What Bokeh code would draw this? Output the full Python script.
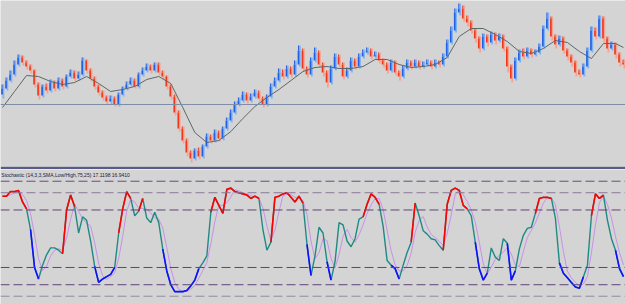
import numpy as np
import pandas as pd
from bokeh.plotting import figure
from bokeh.layouts import column
from bokeh.models import Range1d, Span, Label
from bokeh.embed import file_html
from bokeh.resources import INLINE

# ---------------- data ----------------
first_open = 72
close = [78, 86, 92, 102, 109, 104, 100, 96, 82, 71,
         80, 76, 84, 78, 86, 80, 90, 94, 88, 92,
         106, 96, 88, 80, 74, 69, 65, 68, 62, 72,
         78, 82, 86, 80, 92, 96, 100, 96, 102, 94,
         90, 80, 70, 54, 38, 26, 14, 8, 16, 10,
         20, 30, 26, 34, 28, 38, 46, 54, 62, 66,
         72, 66, 70, 74, 68, 62, 70, 80, 86, 94,
         90, 98, 92, 102, 116, 98, 92, 106, 114, 102,
         94, 84, 98, 110, 102, 90, 96, 106, 100, 110,
         114, 116, 110, 112, 106, 102, 96, 104, 94, 90,
         98, 104, 100, 104, 100, 102, 104, 100, 104, 102,
         110, 124, 136, 154, 158, 148, 144, 136, 128, 118,
         130, 124, 132, 126, 130, 118, 100, 88, 106, 114,
         110, 116, 112, 114, 120, 138, 148, 130, 122, 128,
         116, 110, 104, 94, 92, 100, 116, 136, 130, 148,
         128, 118, 122, 112, 104, 102]
high = [82, 89, 96, 106, 112, 111, 106, 102, 97, 84,
        82, 83, 87, 86, 89, 88, 92, 97, 96, 95,
        109, 107, 98, 90, 82, 76, 71, 71, 70, 74,
        80, 85, 89, 88, 94, 99, 103, 102, 104, 104,
        96, 91, 82, 72, 56, 40, 28, 16, 18, 19,
        22, 33, 32, 37, 36, 40, 49, 57, 65, 69,
        75, 74, 73, 77, 76, 70, 72, 83, 89, 98,
        97, 101, 100, 106, 121, 118, 100, 109, 119, 116,
        104, 96, 101, 113, 112, 104, 99, 109, 108, 113,
        117, 119, 118, 115, 114, 108, 104, 107, 106, 96,
        101, 107, 106, 107, 106, 105, 107, 106, 107, 106,
        113, 127, 140, 158, 163, 161, 151, 146, 138, 130,
        133, 132, 135, 134, 133, 132, 120, 102, 109, 117,
        118, 119, 118, 117, 123, 141, 154, 150, 132, 131,
        130, 118, 112, 106, 97, 103, 119, 140, 139, 151,
        150, 130, 125, 124, 114, 107]
low = [68, 76, 84, 90, 100, 101, 97, 93, 79, 67,
       69, 73, 74, 75, 76, 77, 78, 88, 85, 86,
       90, 93, 85, 77, 71, 66, 62, 62, 60, 60,
       70, 76, 80, 78, 78, 90, 94, 93, 94, 91,
       87, 77, 67, 51, 35, 23, 10, 4, 6, 7,
       8, 18, 23, 24, 25, 26, 36, 44, 52, 60,
       64, 63, 64, 68, 65, 59, 60, 68, 78, 84,
       87, 88, 89, 90, 100, 95, 89, 90, 104, 99,
       90, 79, 82, 96, 99, 87, 88, 94, 97, 98,
       108, 112, 107, 108, 103, 99, 93, 94, 91, 86,
       88, 96, 97, 98, 97, 98, 100, 97, 98, 99,
       100, 108, 122, 134, 151, 145, 140, 133, 124, 114,
       116, 120, 122, 122, 124, 115, 94, 84, 86, 104,
       107, 108, 109, 110, 112, 118, 136, 126, 118, 120,
       113, 106, 100, 90, 89, 90, 98, 114, 127, 128,
       124, 114, 116, 108, 100, 98]
# moving average, read every third bar (plus the last bar)
ma_bars = list(range(0, 156, 3)) + [155]
ma_values = [59, 75, 91, 90, 85, 82, 84, 90, 83, 75,
             77, 80, 87, 90, 83, 59, 34, 24, 26, 35,
             48, 60, 69, 77, 86, 95, 99, 100, 98, 98,
             100, 107, 107, 102, 99, 100, 102, 109, 130, 138,
             138, 132, 125, 115, 113, 118, 126, 124, 115, 108,
             123, 123, 119]
price_level = 62
stoch_k = [87, 87, 91, 91, 92, 82, 76, 58, 25, 15,
           27, 36, 42, 42, 40, 37, 75, 88, 78, 55,
           69, 66, 48, 26, 12, 15, 17, 19, 25, 55,
           76, 91, 85, 70, 74, 85, 68, 64, 73, 64,
           41, 22, 10, 4, 4, 4, 5, 9, 14, 24,
           29, 35, 73, 86, 79, 72, 93, 94, 91, 90,
           89, 88, 85, 87, 85, 58, 40, 47, 86, 87,
           89, 90, 86, 82, 87, 81, 45, 18, 35, 60,
           55, 30, 14, 30, 64, 62, 48, 43, 50, 67,
           69, 80, 89, 86, 80, 61, 31, 27, 24, 15,
           27, 38, 47, 81, 70, 57, 54, 50, 49, 44,
           40, 80, 92, 94, 92, 79, 76, 70, 47, 24,
           14, 20, 42, 34, 31, 50, 46, 14, 22, 41,
           53, 59, 60, 72, 85, 86, 86, 85, 68, 29,
           20, 16, 12, 8, 7, 17, 27, 70, 89, 85,
           88, 66, 50, 40, 24, 17]
stoch_levels = [100, 90, 75, 25, 10, 0]
stoch_level_colors = ["#6a4a80", "#8a7898", "#62427a", "#62427a", "#62427a", "#948aa0"]
overbought, oversold = 75, 25
indicator_label = "Stochastic (14,3,3,SMA,Low/High,75,25) 17.1198 16.9410"

# ---------------- build ----------------
N = len(close)
xs = np.arange(N)
c = np.array(close, float)
o = np.array([first_open] + close[:-1], float)
h = np.array(high, float)
l = np.array(low, float)
up = c >= o

BG = "#d4d4d4"
xr = Range1d(-0.5, N - 0.5)

p1 = figure(width=625, height=169, x_range=xr, y_range=Range1d(0, 166),
            x_axis_type=None, y_axis_type=None, toolbar_location=None,
            output_backend="svg", min_border_left=0, min_border_right=0,
            min_border_top=0, min_border_bottom=3, border_fill_color="#5a5a86",
            background_fill_color=BG, outline_line_color=None)
p1.grid.visible = False

light = np.where(up, "#7fb2f2", "#f4a48e")
dark = np.where(up, "#1f60e6", "#f2361c")
p1.vbar(x=xs + 0.22, width=0.45, top=h, bottom=l, color=list(light), line_width=0)
p1.vbar(x=xs - 0.12, width=0.42, top=np.maximum(o, c), bottom=np.minimum(o, c),
        color=list(dark), line_width=0)
p1.segment(x0=xs - 0.12, x1=xs - 0.12, y0=np.maximum(o, c), y1=h, color=list(dark), line_width=1)
p1.line(x=ma_bars, y=ma_values, line_color="#5c6868", line_width=1)
p1.add_layout(Span(location=price_level, dimension="width", line_color="#7f8ea6", line_width=1))

p2 = figure(width=625, height=135, x_range=xr, y_range=Range1d(-7.2, 110.2),
            x_axis_type=None, y_axis_type=None, toolbar_location=None,
            output_backend="svg", min_border=0, background_fill_color=BG,
            border_fill_color=BG, outline_line_color=None)
p2.grid.visible = False
for lv, col in zip(stoch_levels, stoch_level_colors):
    p2.add_layout(Span(location=lv, dimension="width", line_color=col,
                       line_width=1, line_dash="9 4"))

k = np.array(stoch_k, float)
d = pd.Series(k).rolling(3, min_periods=1).mean().to_numpy()
nxt = np.append(k[1:], np.nan)
# a coloured run also takes in the bar just before it, as the terminal draws it
red_mask = (k >= overbought) | (nxt >= overbought)
blue_mask = (k <= oversold) | (nxt <= oversold)
p2.line(x=xs, y=d, line_color="#c890ea", line_width=1)
p2.line(x=xs, y=k, line_color="#1f8a84", line_width=1.4)
p2.line(x=xs, y=np.where(red_mask, k, np.nan), line_color="#ff0000", line_width=1.6)
p2.line(x=xs, y=np.where(blue_mask, k, np.nan), line_color="#1010ff", line_width=1.6)

p2.add_layout(Label(x=-0.3, y=105.3, text=indicator_label, text_font="Liberation Sans",
                    text_font_size="5px", text_baseline="middle", text_color="#1a1a3a"))

layout = column(p1, p2, spacing=0)
open("out.html", "w").write(file_html(layout, INLINE))
